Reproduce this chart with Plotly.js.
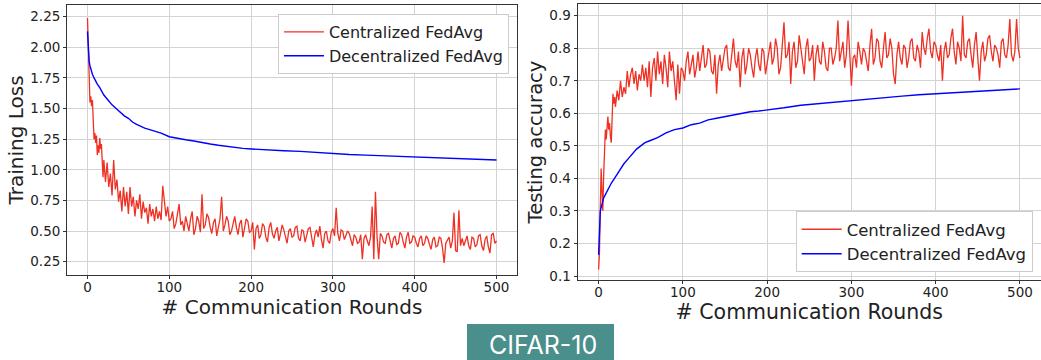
<!DOCTYPE html>
<html>
<head>
<meta charset="utf-8">
<script src="https://cdn.plot.ly/plotly-3.0.1.min.js"></script>
<style>
  html, body { margin: 0; padding: 0; background: #ffffff; }
  #chart { width: 1041px; height: 360px; }
</style>
</head>
<body>
<div id="chart"></div>
<script>
// ---- data ----
const seriesNames = ["Centralized FedAvg", "Decentralized FedAvg"];
const xTickVals = [0, 100, 200, 300, 400, 500];
const lossTickVals = [0.25, 0.50, 0.75, 1.00, 1.25, 1.50, 1.75, 2.00, 2.25];
const accTickVals = [0.1, 0.2, 0.3, 0.4, 0.5, 0.6, 0.7, 0.8, 0.9];

const redRounds = [0,1,2,3,4,5,6,7,8,9,10,11,12,13,14,15,16,17,18,19,20,
  22,24,26,28,30,32,34,36,38,40,42,44,46,48,50,52,54,56,58,60,62,64,66,68,70,72,74,76,78,80,82,84,86,88,90,92,94,96,98,100,
  102,104,106,108,110,112,114,116,118,120,122,124,126,128,130,132,134,136,138,140,142,144,146,148,150,
  152,154,156,158,160,162,164,166,168,170,172,174,176,178,180,182,184,186,188,190,192,194,196,198,200,
  202,204,206,208,210,212,214,216,218,220,222,224,226,228,230,232,234,236,238,240,242,244,246,248,250,
  252,254,256,258,260,262,264,266,268,270,272,274,276,278,280,282,284,286,288,290,292,294,296,298,300,
  302,304,306,308,310,312,314,316,318,320,322,324,326,328,330,332,334,336,338,340,342,344,346,348,350,
  352,354,356,358,360,362,364,366,368,370,372,374,376,378,380,382,384,386,388,390,392,394,396,398,400,
  402,404,406,408,410,412,414,416,418,420,422,424,426,428,430,432,434,436,438,440,442,444,446,448,450,
  452,454,456,458,460,462,464,466,468,470,472,474,476,478,480,482,484,486,488,490,492,494,496,498,500];

const lossCentral = [2.24,2.02,1.78,1.55,1.60,1.52,1.57,1.38,1.25,1.30,1.22,1.28,1.12,1.20,1.14,1.26,1.17,1.21,1.04,0.94,1.08,
  0.90,1.06,0.86,0.97,0.79,1.08,0.84,0.92,0.74,0.83,0.66,0.86,0.70,0.82,0.64,0.86,0.70,0.78,0.62,0.75,0.68,0.80,0.60,0.74,0.65,0.69,0.56,0.72,0.62,0.68,0.58,0.70,0.60,0.66,0.59,0.87,0.72,0.62,0.70,0.58,
  0.60,0.66,0.52,0.56,0.64,0.72,0.55,0.58,0.50,0.62,0.56,0.50,0.60,0.66,0.47,0.52,0.62,0.58,0.49,0.80,0.52,0.55,0.64,0.61,0.53,
  0.48,0.57,0.60,0.46,0.52,0.60,0.78,0.50,0.55,0.62,0.58,0.47,0.50,0.57,0.62,0.53,0.47,0.56,0.59,0.45,0.52,0.60,0.58,0.49,0.50,
  0.57,0.35,0.52,0.55,0.44,0.47,0.56,0.54,0.45,0.41,0.53,0.57,0.48,0.44,0.50,0.53,0.42,0.48,0.55,0.51,0.44,0.40,0.50,0.52,0.45,
  0.46,0.53,0.54,0.44,0.42,0.51,0.50,0.41,0.46,0.52,0.53,0.44,0.37,0.47,0.51,0.45,0.54,0.43,0.36,0.48,0.50,0.42,0.40,0.49,0.52,
  0.46,0.69,0.48,0.42,0.51,0.50,0.43,0.46,0.50,0.48,0.42,0.38,0.47,0.45,0.40,0.41,0.47,0.27,0.44,0.47,0.42,0.38,0.45,0.70,0.27,
  0.82,0.45,0.27,0.48,0.46,0.41,0.40,0.47,0.48,0.42,0.36,0.44,0.46,0.39,0.40,0.49,0.47,0.41,0.36,0.45,0.49,0.40,0.41,0.46,0.45,
  0.40,0.37,0.44,0.46,0.38,0.40,0.46,0.44,0.39,0.35,0.43,0.45,0.37,0.38,0.45,0.44,0.36,0.24,0.40,0.42,0.45,0.36,0.42,0.65,0.34,
  0.33,0.67,0.38,0.44,0.38,0.43,0.46,0.38,0.35,0.45,0.44,0.37,0.39,0.46,0.47,0.38,0.34,0.43,0.46,0.37,0.32,0.47,0.48,0.40,0.42];

const accCentral = [0.12,0.17,0.31,0.43,0.36,0.30,0.41,0.48,0.55,0.52,0.57,0.59,0.55,0.57,0.53,0.51,0.58,0.66,0.63,0.65,0.62,
  0.67,0.64,0.70,0.65,0.68,0.66,0.73,0.68,0.72,0.74,0.69,0.73,0.67,0.72,0.70,0.75,0.70,0.74,0.68,0.76,0.65,0.74,0.77,0.70,0.79,0.72,0.76,0.69,0.78,0.74,0.68,0.79,0.73,0.76,0.70,0.64,0.75,0.66,0.74,0.73,
  0.70,0.76,0.79,0.72,0.75,0.78,0.71,0.74,0.79,0.73,0.77,0.81,0.74,0.75,0.80,0.79,0.73,0.72,0.78,0.66,0.75,0.78,0.73,0.76,0.80,
  0.81,0.74,0.73,0.79,0.83,0.76,0.74,0.79,0.68,0.77,0.80,0.72,0.75,0.80,0.78,0.74,0.71,0.77,0.80,0.75,0.73,0.80,0.79,0.72,0.75,
  0.78,0.82,0.75,0.77,0.83,0.80,0.72,0.74,0.81,0.88,0.77,0.78,0.82,0.69,0.79,0.82,0.74,0.76,0.84,0.80,0.75,0.72,0.80,0.83,0.76,
  0.77,0.81,0.70,0.78,0.81,0.76,0.75,0.82,0.79,0.74,0.73,0.80,0.80,0.75,0.77,0.80,0.885,0.76,0.79,0.82,0.74,0.78,0.885,0.76,0.685,
  0.77,0.78,0.74,0.82,0.79,0.75,0.80,0.79,0.76,0.73,0.81,0.86,0.75,0.77,0.83,0.82,0.76,0.74,0.80,0.85,0.77,0.78,0.83,0.80,0.72,
  0.69,0.78,0.82,0.77,0.75,0.81,0.80,0.74,0.77,0.82,0.83,0.77,0.76,0.81,0.79,0.74,0.85,0.80,0.78,0.83,0.86,0.79,0.77,0.82,0.81,
  0.78,0.76,0.81,0.70,0.79,0.82,0.77,0.78,0.83,0.86,0.79,0.75,0.82,0.80,0.76,0.90,0.78,0.77,0.82,0.83,0.78,0.74,0.81,0.85,0.77,
  0.70,0.79,0.82,0.76,0.78,0.83,0.84,0.79,0.76,0.81,0.80,0.78,0.74,0.82,0.83,0.78,0.77,0.81,0.89,0.78,0.76,0.79,0.89,0.80,0.77];

const blueRounds = [0,1,2,3,4,5,6,8,10,12,15,20,25,30,35,40,45,50,55,60,70,80,90,100,110,120,130,140,150,160,170,180,190,200,
  220,240,260,280,300,320,340,360,380,400,420,440,460,480,500];

const lossDecentral = [2.13,1.96,1.89,1.85,1.82,1.80,1.78,1.75,1.72,1.70,1.67,1.61,1.57,1.53,1.50,1.47,1.44,1.42,1.39,1.37,1.34,1.32,1.30,1.27,
  1.255,1.245,1.235,1.22,1.21,1.20,1.19,1.185,1.175,1.17,1.16,1.155,1.15,1.14,1.13,1.125,1.12,1.115,1.11,1.105,1.10,1.095,1.09,1.085,1.08];

const accDecentral = [0.165,0.27,0.30,0.31,0.32,0.33,0.34,0.35,0.36,0.37,0.385,0.405,0.425,0.445,0.46,0.475,0.49,0.50,0.51,0.515,0.525,0.54,0.55,0.555,
  0.565,0.57,0.58,0.585,0.59,0.595,0.60,0.605,0.607,0.61,0.617,0.625,0.63,0.635,0.64,0.645,0.65,0.653,0.657,0.66,0.663,0.667,0.67,0.672,0.675];

// ---- styles ----
const RED = '#ee3124';
const BLUE = '#0000ff';
const FONT = 'DejaVu Sans, sans-serif';
const TXT = '#222222';

const traces = [
  {x: redRounds, y: lossCentral, type: 'scatter', mode: 'lines', name: seriesNames[0],
   line: {color: RED, width: 1.3}, xaxis: 'x', yaxis: 'y', legend: 'legend'},
  {x: blueRounds, y: lossDecentral, type: 'scatter', mode: 'lines', name: seriesNames[1],
   line: {color: BLUE, width: 1.4}, xaxis: 'x', yaxis: 'y', legend: 'legend'},
  {x: redRounds, y: accCentral, type: 'scatter', mode: 'lines', name: seriesNames[0],
   line: {color: RED, width: 1.3}, xaxis: 'x2', yaxis: 'y2', legend: 'legend2'},
  {x: blueRounds, y: accDecentral, type: 'scatter', mode: 'lines', name: seriesNames[1],
   line: {color: BLUE, width: 1.4}, xaxis: 'x2', yaxis: 'y2', legend: 'legend2'}
];

function axisCommon() {
  return {
    showline: true, mirror: true, linecolor: '#333333', linewidth: 1,
    showgrid: true, gridcolor: '#d3d3d3', gridwidth: 1,
    zeroline: false, ticks: 'outside', ticklen: 3, tickwidth: 1, tickcolor: '#333333',
    tickfont: {family: FONT, size: 13.5, color: TXT}, automargin: false
  };
}

const layout = {
  width: 1041, height: 360,
  margin: {l: 0, r: 0, t: 0, b: 0},
  paper_bgcolor: '#ffffff', plot_bgcolor: '#ffffff',
  font: {family: FONT, color: TXT},
  showlegend: true,
  xaxis: Object.assign(axisCommon(), {
    domain: [0.0644, 0.4966], anchor: 'y', range: [-25, 525], tickvals: xTickVals, ticklabelstandoff: -3,
    title: {text: '# Communication Rounds', font: {family: FONT, size: 20, color: TXT}, standoff: 0}
  }),
  yaxis: Object.assign(axisCommon(), {
    domain: [0.2361, 0.986], anchor: 'x', range: [0.141, 2.345], tickvals: lossTickVals, tickformat: '.2f',
    title: {text: 'Training Loss', font: {family: FONT, size: 20, color: TXT}, standoff: 1}
  }),
  xaxis2: Object.assign(axisCommon(), {
    domain: [0.5548, 1.0], anchor: 'y2', range: [-25, 525], tickvals: xTickVals, ticklabelstandoff: -3,
    title: {text: '# Communication Rounds', font: {family: FONT, size: 20.5, color: TXT}, standoff: 0}
  }),
  yaxis2: Object.assign(axisCommon(), {
    domain: [0.2222, 0.9889], anchor: 'x2', range: [0.0877, 0.936], tickvals: accTickVals, tickformat: '.1f',
    title: {text: 'Testing accuracy', font: {family: FONT, size: 19.5, color: TXT}, standoff: 1}
  }),
  legend: {
    x: 0.4889, xanchor: 'right', y: 0.961, yanchor: 'top',
    bgcolor: '#ffffff', bordercolor: '#cccccc', borderwidth: 1,
    font: {family: FONT, size: 16, color: TXT}, itemwidth: 40, tracegroupgap: 0
  },
  legend2: {
    x: 0.992, xanchor: 'right', y: 0.2444, yanchor: 'bottom',
    bgcolor: '#ffffff', bordercolor: '#cccccc', borderwidth: 1,
    font: {family: FONT, size: 16.5, color: TXT}, itemwidth: 40, tracegroupgap: 0
  },
  shapes: [{
    type: 'rect', xref: 'paper', yref: 'paper',
    x0: 467 / 1041, x1: 614 / 1041, y0: 0, y1: 1 - 324 / 360,
    fillcolor: '#4a8f8c', line: {width: 0}, layer: 'above'
  }],
  annotations: [{
    text: 'CIFAR-10', xref: 'paper', yref: 'paper', x: 543 / 1041, y: 1 - 345 / 360,
    xanchor: 'center', yanchor: 'middle', showarrow: false,
    font: {family: 'Inter, Open Sans, sans-serif', size: 25, color: '#ffffff'}
  }]
};

Plotly.newPlot('chart', traces, layout, {displayModeBar: false, staticPlot: true});
</script>
</body>
</html>
